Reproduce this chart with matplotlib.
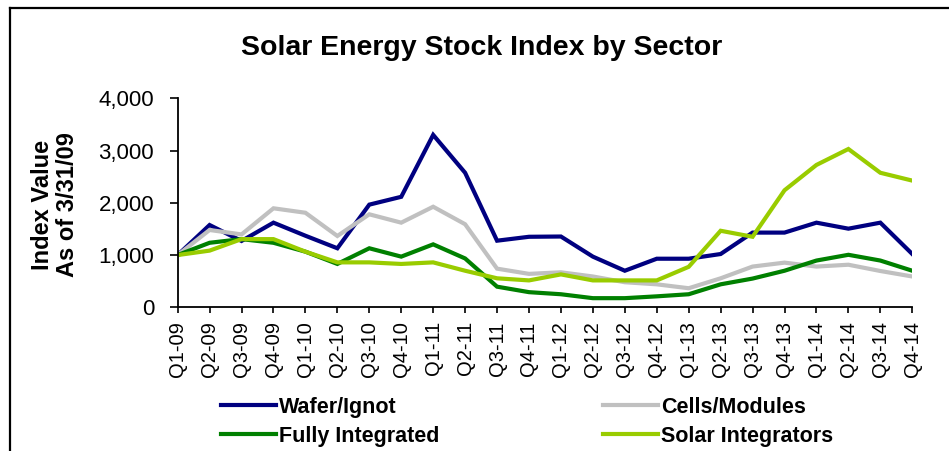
import matplotlib
matplotlib.use("Agg")
import matplotlib.pyplot as plt
from matplotlib.lines import Line2D
from matplotlib.ticker import FuncFormatter

plt.rcParams['font.family'] = ['Liberation Sans', 'DejaVu Sans']

# quarters Q1-09 .. Q4-14
quarters = ['Q1-09', 'Q2-09', 'Q3-09', 'Q4-09',
            'Q1-10', 'Q2-10', 'Q3-10', 'Q4-10',
            'Q1-11', 'Q2-11', 'Q3-11', 'Q4-11',
            'Q1-12', 'Q2-12', 'Q3-12', 'Q4-12',
            'Q1-13', 'Q2-13', 'Q3-13', 'Q4-13',
            'Q1-14', 'Q2-14', 'Q3-14', 'Q4-14']

wafer = [1000, 1575, 1270, 1620, 1370, 1130, 1965, 2115, 3300, 2575, 1275, 1350,
         1355, 970, 700, 930, 930, 1020, 1430, 1430, 1620, 1505, 1620, 1020]
cells = [1000, 1480, 1395, 1895, 1810, 1365, 1780, 1620, 1925, 1590, 740, 640,
         670, 590, 480, 440, 365, 555, 780, 855, 780, 815, 695, 590]
fully = [1000, 1235, 1305, 1235, 1065, 830, 1130, 970, 1205, 935, 395, 290,
         250, 175, 175, 210, 250, 440, 550, 700, 895, 1005, 895, 700]
solar = [1000, 1085, 1305, 1305, 1065, 860, 860, 830, 860, 700, 555, 515,
         630, 515, 515, 515, 775, 1465, 1350, 2240, 2725, 3030, 2575, 2425]

names = ['Wafer/Ignot', 'Cells/Modules', 'Fully Integrated', 'Solar Integrators']
colors = ['#000080', '#C0C0C0', '#008000', '#99CC00']

fig = plt.figure(figsize=(9.49, 4.51), dpi=100)
ax = fig.add_axes([0.1872, 0.3186, 0.9613 - 0.1872, 0.782 - 0.3186])

x = list(range(len(quarters)))
lines = []
for vals, name, c in zip([wafer, cells, fully, solar], names, colors):
    ln, = ax.plot(x, vals, color=c, lw=3, label=name, solid_joinstyle='miter')
    lines.append(ln)

ax.set_xlim(0, len(quarters) - 1)
ax.set_ylim(0, 4000)
ax.set_yticks([0, 1000, 2000, 3000, 4000])
ax.yaxis.set_major_formatter(FuncFormatter(lambda v, p: '{:,.0f}'.format(v)))
ax.set_xticks(x)
ax.set_xticklabels(quarters, rotation=90, fontsize=14.5)
ax.tick_params(axis='y', labelsize=16, length=6, width=1.2, pad=11, direction='out')
ax.tick_params(axis='x', length=4.5, width=1.2, pad=5.5, direction='out')

for s in ['top', 'right']:
    ax.spines[s].set_visible(False)
for s in ['left', 'bottom']:
    ax.spines[s].set_linewidth(1.3)

fig.text(482 / 949, 1 - 48 / 451, 'Solar Energy Stock Index by Sector',
         ha='center', va='center', fontsize=20.5, fontweight='bold')
fig.text(55 / 949, 1 - 205 / 451, 'Index Value\nAs of 3/31/09', rotation=90,
         ha='center', va='center', fontsize=17, fontweight='bold',
         linespacing=1.15, multialignment='center')

# legend, column-wise: left column Wafer & Fully, right column Cells & Solar
order = [0, 2, 1, 3]
fig.legend([lines[i] for i in order], [names[i] for i in order],
           loc='upper left', bbox_to_anchor=(221 / 949, 1 - 397 / 451),
           ncol=2, frameon=False, borderpad=0, borderaxespad=0,
           handlelength=2.55, handletextpad=0.15, columnspacing=7.6,
           labelspacing=0.35, prop={'size': 15.5, 'weight': 'bold'})

# outer frame (left and top edges visible)
fig.add_artist(Line2D([10 / 949, 10 / 949], [0, 1 - 8 / 451], color='black',
                      lw=1.6, transform=fig.transFigure))
fig.add_artist(Line2D([10 / 949, 1], [1 - 8 / 451, 1 - 8 / 451], color='black',
                      lw=1.6, transform=fig.transFigure))

fig.savefig('out.png', dpi=100)
